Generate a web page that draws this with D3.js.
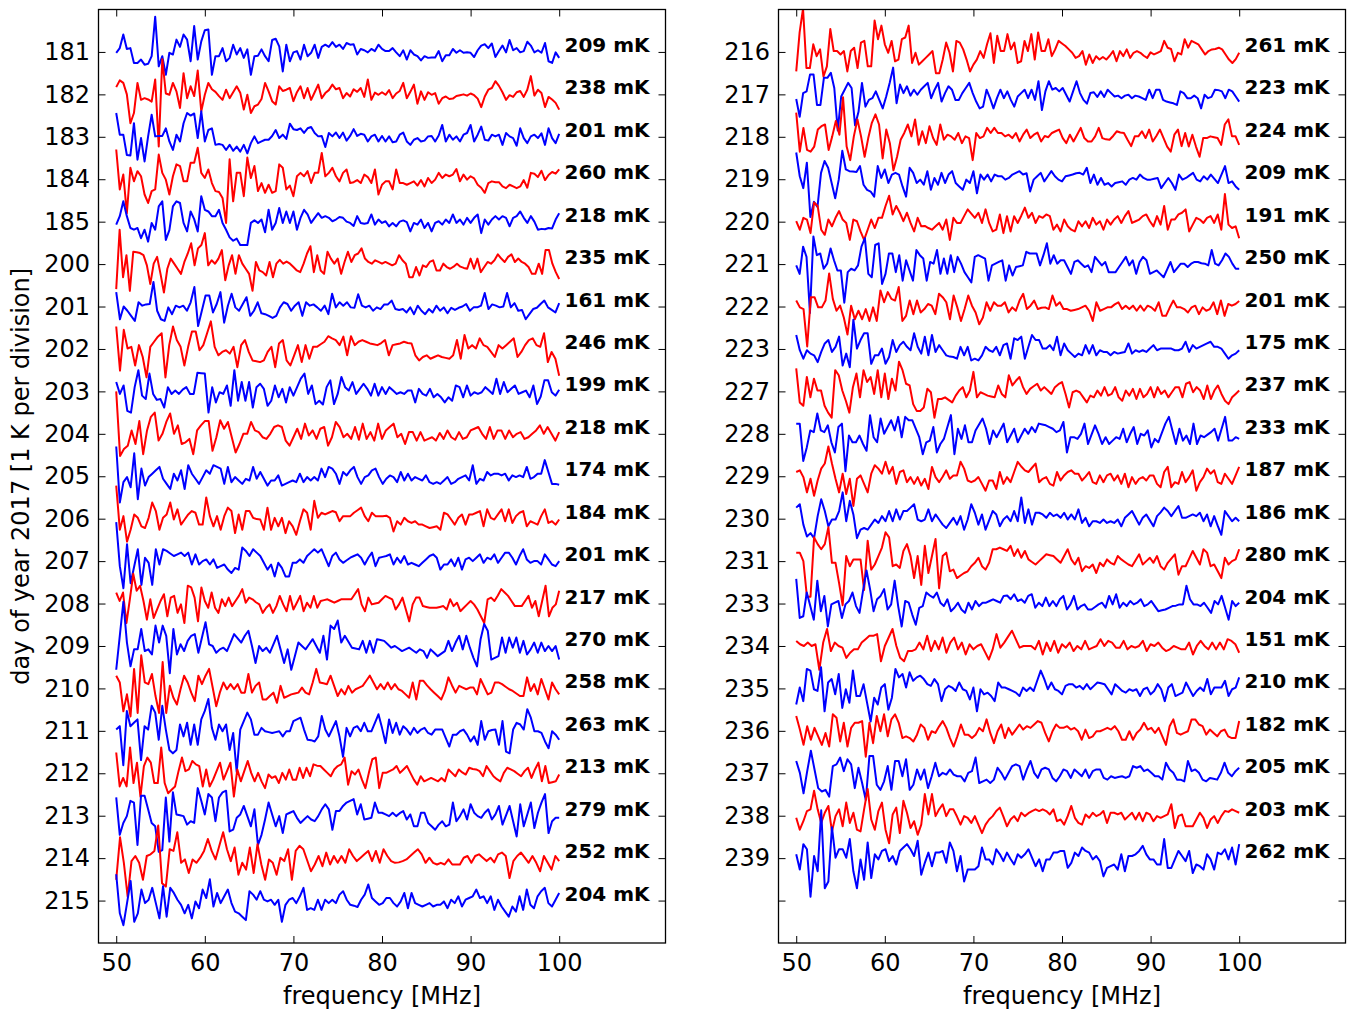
<!DOCTYPE html>
<html>
<head>
<meta charset="utf-8">
<script src="https://cdn.jsdelivr.net/npm/d3@7"></script>
<style>
  html, body { margin: 0; padding: 0; background: #fff; }
  svg { display: block; }
</style>
</head>
<body>
<svg id="chart" width="1354" height="1013"></svg>
<script>
// Daily residual spectra (centikelvin), evenly spaced channels from 50 to 100 MHz.
const r181 = [-2,9,41,7,9,-26,-26,-18,-30,-28,-10,83,-34,-10,-54,-2,-6,29,12,41,29,-22,61,-18,25,51,53,-54,-10,-10,9,-22,-14,17,-6,9,-14,6,-54,-10,-9,6,-10,-22,28,31,13,-46,17,-22,-1,2,-18,17,-10,-2,17,-14,12,17,12,23,12,17,7,21,17,18,-6,7,4,-1,7,2,17,7,2,2,9,-1,-10,4,-18,4,-6,-10,-20,-10,-14,-13,-13,2,-22,-8,-8,7,-2,4,-2,-1,-2,-12,4,15,18,9,20,-12,2,15,-1,28,4,9,-1,2,24,15,-1,4,-2,21,-22,-26,-1,-14];
const r182 = [17,33,27,0,-68,-44,27,-13,-9,-12,-17,35,-123,83,2,-1,27,7,-32,50,-9,19,-4,56,-40,-1,27,12,6,-4,-13,11,-9,5,19,4,-36,-1,-44,-28,-24,-11,27,7,-16,-24,19,8,11,15,-16,5,19,-9,15,-13,5,23,-9,3,10,23,12,15,-9,3,-5,12,6,15,-6,35,-13,4,-1,5,-1,10,-9,2,8,27,-9,6,23,-22,7,-13,5,-1,3,-22,-9,-5,-11,-10,-4,-2,0,-3,2,-2,-10,-30,-5,11,15,31,20,5,-13,-2,-6,5,8,-6,11,43,-3,11,3,-30,-6,-12,-20,-36];
const r183 = [56,5,5,-43,-44,32,-54,-3,-58,1,52,1,2,2,20,-11,-31,5,-11,32,56,50,55,-3,60,-11,16,20,-19,-17,-19,-31,-19,-33,-23,-35,-19,-39,-15,1,-15,-11,-7,-7,2,16,-3,5,-5,31,18,16,20,9,20,23,9,1,2,-24,9,1,10,-3,10,-9,2,18,2,7,5,-11,1,5,-11,2,-11,1,-13,-11,5,10,-11,-19,-7,-3,-11,-9,1,2,-11,3,28,-11,5,-7,1,-11,5,9,28,-11,5,24,-7,-9,5,1,5,-19,9,1,-3,-21,20,-3,-15,1,5,-3,8,-19,20,-3,-15,7];
const r184 = [70,-24,11,-80,27,-5,19,7,-36,-56,-28,-24,58,15,-1,-36,7,35,31,-5,-5,39,39,74,15,3,23,-9,-28,-30,-44,-103,47,-52,15,15,-40,51,3,31,-28,-9,-32,-13,-32,-28,35,27,-24,-15,-40,7,15,7,19,-9,15,15,62,7,15,27,7,-5,15,23,-9,-7,-2,-9,11,5,-9,23,-36,-13,-5,-5,-24,23,-9,-9,-13,-9,-5,-15,-2,-17,3,-9,-1,15,3,11,7,11,24,-5,11,-1,7,2,-13,-20,-32,-9,-5,-7,-7,-17,-21,-13,-17,-21,-17,-2,-20,15,13,5,20,-2,10,17,13,23];
const r185 = [-7,13,48,13,-15,-19,-15,-39,-19,-47,-3,-19,36,48,-43,-20,36,48,44,-3,-23,24,6,-23,60,28,24,13,13,28,-3,-19,-37,-45,-40,-55,-55,-55,-3,3,-3,5,-25,28,-19,-3,32,-3,24,-3,24,-19,9,28,17,-3,9,20,9,13,9,1,5,11,9,0,-3,-10,13,-3,-5,-3,17,-7,5,-3,1,-11,-3,-11,0,3,-1,-23,-3,-7,5,-15,-3,-23,-3,1,-7,5,-3,17,-3,5,-7,9,-3,9,17,-27,5,-7,5,13,5,13,9,-11,9,13,24,9,-3,13,0,-19,-17,-18,-15,-16,5,20];
const r200 = [-59,81,-31,21,-63,29,28,26,21,-3,-47,1,17,-23,-67,-11,13,1,-11,-23,5,25,49,-3,37,45,73,-3,9,1,13,33,-38,-3,21,-23,21,1,-11,-23,-63,5,-15,-19,-27,5,-31,1,10,1,6,1,-7,-15,-19,1,25,42,-19,21,-15,-23,29,13,1,13,-23,5,29,5,21,25,37,13,5,1,9,5,1,5,1,-3,1,21,9,1,-31,-31,-7,-27,-3,-7,5,9,-15,-15,1,-7,-11,-6,1,-6,-9,-11,13,-11,13,-19,-7,5,1,9,23,13,5,17,23,5,13,5,1,-7,-23,-23,1,-23,33,33,1,-19,-35];
const r201 = [34,-30,0,-10,-22,-34,10,2,5,6,58,-10,-30,-34,-2,-18,2,-2,2,-10,10,46,-46,-10,26,26,-14,6,34,-38,2,30,-2,-10,6,22,-22,-10,10,-16,-18,-22,-27,-22,-2,10,6,-10,2,10,-22,10,2,5,-2,-10,2,-18,30,-2,10,2,10,-2,-3,29,2,-2,2,-10,-2,-6,5,5,14,-6,-8,-6,-14,-2,-18,2,-10,-18,-6,-14,2,-10,-2,-16,-3,-8,-3,0,6,-10,-2,-2,2,32,-6,5,2,-2,0,32,-2,8,-10,-8,-30,-18,-6,-3,6,14,-2,-8,-14,8];
const r202 = [53,-51,45,1,5,-39,9,-19,-67,5,17,29,37,-67,9,53,21,5,-39,5,41,41,-3,9,37,65,5,-15,-7,-3,-11,5,-43,9,21,-7,-27,-29,-31,-27,-7,5,-43,13,21,-27,-39,-15,9,-31,9,-23,5,5,11,17,30,25,21,9,29,-15,30,9,17,21,17,13,11,9,14,21,-15,9,11,13,17,14,13,-15,-27,-19,-15,-23,-19,-15,-19,-21,-23,-15,21,-23,33,1,9,1,25,9,5,-7,-19,9,1,9,17,25,-19,-7,9,21,25,9,5,37,-31,-7,-23,-63];
const r203 = [22,-6,14,-46,-50,10,50,-10,-18,42,-6,-20,-18,-38,10,-6,2,-6,4,10,-6,-6,44,43,42,-50,10,-26,-2,-6,14,-34,50,-22,22,-22,22,-38,10,18,6,-34,-22,14,-14,6,-26,10,-10,10,30,42,-6,14,-30,-22,-31,10,26,-30,-6,34,10,2,22,-6,6,18,6,-10,18,-10,10,-6,10,2,-6,-2,-6,2,2,-26,6,-6,-10,6,-14,-6,-14,-26,-14,-22,14,10,-14,14,-10,-2,-6,-2,10,2,-6,30,-6,22,-2,6,14,-6,-2,2,-14,14,-30,-12,26,26,-2,-10,4];
const r204 = [100,-52,-36,-28,8,-24,30,-48,8,40,50,-16,0,28,48,0,20,-24,-20,-12,-48,8,20,30,30,-40,-8,32,12,28,-8,-44,-24,0,0,28,8,4,-8,-12,0,16,20,16,-16,-28,-8,12,-12,24,-4,8,-12,12,16,-28,-8,28,16,-8,0,-12,16,-14,24,-12,4,-16,24,-12,8,16,24,-8,0,-24,4,4,-16,4,-16,-12,-8,-16,2,-12,8,-8,-14,4,-12,-8,8,12,16,0,-12,16,-12,8,8,-12,8,-8,0,4,-12,-8,0,8,20,0,16,0,-16,4];
const r205 = [70,-62,-14,-2,-26,54,-54,18,-22,-2,6,14,22,-6,-18,-30,6,-10,14,-30,26,6,-6,-18,-2,14,6,26,22,18,-18,22,-14,-2,-10,-18,-6,-10,22,-6,10,-6,-22,-10,-10,2,-22,-18,-14,-10,-14,6,-14,-2,-10,-2,-10,18,-2,22,18,6,-18,10,2,14,22,-2,-18,-2,2,14,18,-2,-18,-6,2,-2,-14,10,-10,6,-10,-2,-6,-10,2,-14,-18,-14,-18,-10,-2,-18,-14,-6,-2,2,-10,26,-18,-6,-10,10,2,6,6,2,6,-10,2,-2,2,-2,22,-6,-2,6,6,38,10,-18,-18,-20];
const r206 = [78,-26,6,-54,-26,10,2,-18,-22,2,38,18,-26,2,10,38,-2,22,-14,-2,10,18,14,-14,-14,50,6,-18,6,-26,6,26,18,-34,10,-26,18,18,2,-1,-2,-26,26,-26,2,-18,2,-34,-6,-18,-38,-6,22,14,-26,42,2,14,10,14,18,15,-6,6,6,6,14,20,26,6,-6,14,6,6,6,7,2,-30,-6,-14,2,-6,-10,-6,-14,-14,-18,-22,-20,-18,-26,14,10,-2,-14,2,10,-14,10,10,14,18,-18,22,2,-2,10,22,-6,22,-10,6,14,18,-18,-6,-10,-14,6,22,-10,-6,-14,-2];
const r207 = [92,-12,-64,40,-52,-12,28,-56,8,-4,-56,28,-8,28,24,18,12,16,20,12,20,-8,16,-8,0,4,-8,4,-16,-12,-8,-20,-28,-16,-20,32,24,12,28,20,12,-4,-20,-8,-36,-4,-16,-36,-36,-4,-4,4,-4,12,20,28,20,28,8,-12,12,20,4,-4,2,8,12,16,8,-8,8,20,-12,8,10,12,16,-8,8,-4,12,-8,-4,-8,-12,-4,4,12,16,8,-20,-8,-8,4,-12,8,-20,4,8,0,8,16,-4,8,4,16,-4,8,20,20,8,-8,12,28,4,-4,0,0,-8,16,4,-8,-12,0];
const r208 = [26,6,26,-46,10,70,30,42,6,-38,10,-34,-14,6,22,-30,14,18,-22,-2,-46,42,38,14,-42,38,6,-10,26,-10,-22,10,-6,14,-6,6,18,34,2,14,10,3,-2,-22,-10,-2,-22,-6,18,-2,-18,18,-14,2,18,-18,2,-10,18,-10,6,8,10,6,2,6,10,10,10,10,22,34,-2,-18,14,-2,0,2,10,18,14,10,-14,-2,14,-14,-42,-2,14,14,-6,-8,-10,-10,-10,-8,-6,-14,10,-6,2,-18,-10,-2,6,-2,-14,-30,-46,10,14,6,19,34,26,18,6,-6,-6,-6,6,18,-10,6,-30,6,42,-30,-10,-2,30];
const r209 = [-56,24,104,8,-48,-8,-8,40,-12,-8,-20,48,8,48,24,-64,40,-20,4,-12,12,24,28,-16,20,56,4,0,-16,-8,-4,-12,8,28,18,8,24,36,0,-40,0,-12,-4,-16,4,24,-8,-40,-8,-56,-24,8,0,-8,4,16,0,-16,24,-32,48,40,60,8,24,10,-4,-6,-8,12,-16,12,-16,16,14,12,4,-4,0,-6,-12,-8,-4,-10,-16,-8,-12,-28,-8,-16,-24,-18,-12,12,-12,8,24,-8,24,-4,-28,-48,16,52,36,-32,-28,-24,20,-16,20,-4,20,-16,12,-20,-8,8,-16,8,-12,0,-12,0,-32];
const r210 = [30,14,-54,-14,-66,46,-58,78,14,10,34,-18,-58,62,-58,6,-22,-38,-2,30,14,-10,-30,30,10,30,46,2,-42,-10,14,-2,10,-2,10,-10,-10,34,-10,6,14,-26,-26,-18,-10,-34,6,-22,-18,-14,-12,-10,2,-10,-14,14,46,14,12,10,30,6,-18,-2,-14,6,-10,-2,2,6,18,30,14,-2,10,-2,14,-2,10,-2,-6,-14,-22,14,-26,18,18,7,-2,-10,-18,-26,-6,26,7,-10,6,2,-2,2,2,-14,22,4,-14,-10,14,14,10,4,-2,-6,-12,-18,-18,26,-6,10,-14,22,-2,-26,14,-2,-14];
const r211 = [3,11,-81,47,11,19,27,-69,11,3,59,43,-21,59,3,-45,-53,-45,15,-13,19,-33,15,-33,27,47,75,7,-21,15,-1,15,-45,-5,-97,3,23,43,27,-9,-9,7,-1,-3,-5,-3,-1,-13,-1,-1,23,27,31,3,-21,-22,-25,-13,35,3,-13,5,23,-13,-61,7,-13,7,11,-1,19,-1,-1,19,39,7,-29,27,-5,19,-9,11,3,-9,7,-5,3,7,-5,-9,3,3,3,-17,-37,-9,-9,-1,3,-9,-25,-13,-33,23,-21,-1,2,3,-33,23,-49,-53,3,19,15,3,51,31,-1,-1,-5,-25,-41,-1,-9,-21];
const r212 = [49,-31,-11,-31,61,-23,25,-55,17,37,25,-23,-23,61,-23,-47,-39,-31,5,37,5,9,29,21,17,-31,9,-31,-15,5,25,-15,5,25,-55,9,-19,5,29,1,-19,1,-19,-35,-3,-11,-7,-23,1,-15,9,-15,-15,13,-11,13,-7,21,18,17,9,1,-7,9,17,21,37,-27,5,-3,9,-15,-35,1,33,37,-35,1,1,5,9,17,1,9,17,1,-15,-27,-7,-19,-15,-11,-15,-19,-11,-19,9,1,-7,9,2,-3,13,10,9,5,-7,17,5,-7,-14,-19,1,13,9,5,-1,-7,5,13,-11,9,25,-19,17,-23,-21,-19,-3];
const r213 = [43,-45,-17,-1,35,31,-69,47,47,15,-17,-25,-85,-81,43,-61,55,3,1,-1,-21,-13,-17,65,35,3,51,43,-13,43,55,59,-37,-33,-5,3,23,-1,-25,15,-69,-45,-9,31,3,-25,-1,-41,3,7,11,-5,-17,-9,-1,-9,-13,-1,15,27,15,-33,11,11,23,31,35,39,3,27,-9,-7,-5,31,7,7,3,-1,7,-1,6,11,-9,3,-25,-25,7,7,-17,-25,-33,-21,-13,-25,-21,31,-13,-1,15,-9,27,7,-1,-5,7,15,-9,3,23,-21,1,23,-13,-49,27,-25,3,31,-29,7,31,51,-41,-13,-5,-5];
const r214 = [-51,49,-11,-91,-7,5,-11,-51,5,9,17,77,-59,-67,21,17,61,-11,-3,-35,-3,-11,1,17,45,17,-3,29,61,21,-7,25,-39,-11,-27,25,-35,33,-15,-51,-3,-11,-39,1,-7,21,-51,17,29,21,-5,-31,-15,5,-19,13,-15,5,-11,5,-11,21,5,-7,1,9,17,-7,17,-11,21,5,-7,-11,-10,-7,-3,5,13,21,9,-11,1,-11,-15,-11,-15,-3,-15,-15,-15,1,5,-11,5,9,1,-7,1,-10,9,13,5,-47,-7,5,13,1,-11,5,-11,-31,5,-11,-27,5,-7];
const r215 = [62,-30,-58,-6,46,-50,-30,26,-6,2,30,-6,-42,34,-38,30,18,2,-10,-30,-10,-42,-2,-18,26,6,50,-14,18,-6,10,26,-6,-26,-30,-38,-46,22,14,2,22,2,-2,2,-10,2,-50,-10,2,6,-6,10,30,-22,-18,-22,2,-22,2,-6,2,-6,14,22,2,-10,-12,-15,2,14,38,6,-2,-10,-6,6,6,-6,-14,-2,18,-18,18,-6,-10,-14,-10,-6,-14,-10,-10,-2,-18,2,-6,10,-14,2,6,10,26,6,10,-6,10,-22,2,-14,-26,-38,-14,-26,10,-22,26,-10,-18,10,22,30,-6,-14,2,18];
const r216 = [-46,46,102,-38,-38,18,-10,6,-58,-34,54,2,2,-6,2,-46,2,10,-38,22,26,-34,-34,74,30,62,18,-2,26,-22,-18,30,34,62,-26,-2,-30,-22,-14,-6,2,-50,-50,-18,22,-2,-46,26,22,6,-18,-46,-30,-18,2,-14,18,44,-26,38,2,2,42,6,22,-26,-22,26,2,42,-18,46,2,2,30,-10,6,26,20,14,6,-2,-14,-10,2,-30,-6,-26,-10,-18,-12,-18,-9,2,-22,2,-10,6,-14,-2,2,-2,-9,-14,-1,-6,-2,2,26,10,7,-22,-2,-6,30,10,26,22,18,6,-6,2,6,7,10,6,-6,-18,-26,-17,-2];
const r217 = [-11,-53,3,7,47,47,-25,-25,39,39,51,15,-85,-5,11,27,15,-73,-41,27,-29,-13,-9,7,-13,-33,-5,27,63,-21,23,3,19,-3,11,-1,11,19,27,-9,11,27,-17,3,19,11,-13,-13,3,15,27,3,-17,-33,-29,11,-9,-33,-9,11,-9,7,-13,-29,-5,3,11,-9,11,-13,31,-37,7,31,11,15,7,15,-1,-17,7,31,3,-13,-22,3,5,-6,7,-6,11,3,-5,-3,-9,-3,-1,-9,-3,-5,-9,-13,11,-9,11,11,-13,-17,-19,-21,-25,7,3,-9,-9,-3,-9,-33,-1,-9,-6,11,10,7,-9,11,7,-5,-17];
const r218 = [57,-35,21,-31,-35,-23,17,25,29,-31,1,37,5,93,-23,-55,1,41,1,-47,-3,33,53,29,-51,17,-15,-79,-47,-7,9,29,1,41,-19,13,-15,25,-3,-19,29,-7,5,1,-7,9,-15,1,-3,-55,9,-3,1,21,9,21,9,9,1,5,-3,9,-11,5,17,-3,5,10,-11,2,-1,9,13,17,-3,-15,5,-11,5,21,-3,-11,-11,1,21,-3,-6,-7,2,13,10,9,-7,-22,1,1,13,-3,17,-11,2,17,-3,-23,-35,5,17,-22,9,-23,5,-23,-47,-3,-3,1,-1,-3,-19,29,41,1,1,-19];
const r219 = [63,7,-21,39,-89,-53,-65,15,43,27,-9,-45,-1,67,23,19,18,17,31,-13,-25,-29,-41,31,3,23,-9,11,15,11,-17,-41,27,15,-9,-1,-13,19,-25,3,-13,15,-9,11,19,-9,-17,-25,-1,-9,19,-33,11,-1,11,-5,11,7,7,-1,3,11,15,19,11,14,-29,-1,7,15,-5,7,19,7,-1,-5,7,9,11,14,15,11,27,-9,11,-13,3,-13,-9,-17,-9,-7,-5,-13,-1,3,-1,11,3,-1,-1,1,3,-21,-9,3,-9,-25,11,-1,3,9,15,-1,-5,7,-1,11,1,-9,11,31,-9,-5,-17,-25];
const r220 = [1,-19,9,5,-27,45,37,-19,-31,5,-11,9,25,5,-3,-43,5,1,-23,-43,-19,5,-15,9,9,37,61,17,37,21,1,21,-3,-23,9,-11,-10,-15,-19,-11,-3,-19,5,-43,9,-3,-3,13,29,19,9,21,-3,29,-3,-23,-19,17,-27,13,-23,13,-3,14,33,9,21,-3,13,9,17,13,-19,-7,-23,5,-11,-19,-23,1,-11,1,-15,9,-7,1,-19,5,-7,5,13,-3,13,25,-3,1,5,13,17,1,-11,13,-7,37,-19,5,5,17,21,29,-23,-7,9,5,-3,9,13,-3,17,-19,65,-7,-15,-11,-39];
const r221 = [-3,-23,41,17,-115,65,21,25,-11,1,37,9,-15,-15,-91,-19,-11,-15,-3,41,61,-23,-31,45,49,-47,-23,25,25,-19,21,-39,9,-15,-39,33,21,13,-39,5,1,33,-23,13,-23,21,-19,17,1,-19,-31,-43,17,21,17,13,-39,-3,1,5,9,-39,-3,-27,-7,-5,-3,29,25,25,25,-3,21,49,1,21,1,9,9,-7,-23,5,9,1,-7,-3,-19,17,7,-3,5,-19,-19,-19,-7,5,17,-3,9,-23,5,17,9,-23,-19,-15,-23,-31,-13,5,-19,-9,1,1,-7,1,5,5,2,1,-3,33,1,-3,9,25,17,1,-11,-11];
const r222 = [14,-2,-6,-94,22,22,-2,-2,14,78,18,-10,2,-26,-66,2,-30,-10,-30,-6,-34,-2,-34,38,10,34,18,14,46,-34,-22,14,-18,14,-14,-6,6,2,-18,30,22,10,-30,26,-2,-34,-6,26,2,-14,-42,-26,10,-10,10,2,2,10,-14,-2,-10,14,30,-6,2,14,-6,-3,-2,-6,26,2,10,-6,-6,-10,-8,-6,-2,2,-10,-34,10,-10,-6,-2,-2,5,10,-6,2,-6,2,-10,2,-10,2,-2,-10,10,-22,-22,-3,14,-2,-2,-6,-14,-2,2,-18,-2,-10,-6,10,-18,14,-22,6,2,6,13];
const r223 = [33,-3,-23,-3,-11,-15,-31,-7,13,21,-7,5,29,-39,-11,-43,69,1,21,37,37,-35,-15,-15,1,-35,-19,21,-7,9,17,5,-3,37,5,-11,29,-15,33,-7,9,-3,-15,-18,-19,-23,5,-15,5,-27,-23,-27,-15,5,-3,-7,5,-15,9,13,-23,25,21,29,-23,5,33,21,21,1,1,9,-3,29,-15,13,-3,-11,-19,-11,-15,9,-11,9,-15,-3,-7,-7,-15,-7,-11,-9,-7,13,-11,-3,-7,-3,-7,1,9,-3,1,1,1,1,-3,-3,1,17,-7,9,1,5,9,13,17,5,5,1,-11,-23,-15,-11,-3];
const r227 = [54,-26,-34,34,-14,30,2,2,-34,-50,-62,50,38,2,-22,-50,10,42,-14,50,22,34,-6,50,-14,42,-18,30,2,70,50,18,14,-30,-46,-46,-38,6,-2,-62,-18,-18,-14,-20,-26,-10,2,10,-14,2,46,-14,-2,-6,-10,-12,-14,14,-6,-14,38,14,25,34,10,-6,6,12,18,2,10,2,-6,10,17,22,-6,-38,-2,2,-2,-14,-26,-10,-14,2,-10,10,-10,-6,10,-14,-22,2,-10,6,-18,6,-14,-6,10,-14,10,-6,2,-14,-2,10,10,-14,18,22,-2,10,2,-18,14,-18,2,14,-6,-22,-30,-14,-6,2];
const r228 = [24,24,-64,-32,8,4,48,8,4,20,-20,-44,16,24,-88,-4,-20,-20,-4,-24,-40,44,-8,-20,36,0,16,32,8,40,-8,40,32,32,12,-8,-48,-20,-16,16,-44,-24,-12,16,44,-48,12,-12,20,-20,-20,8,22,36,12,-24,8,-8,8,24,-20,-4,12,-20,-4,12,0,16,4,24,22,20,16,12,4,8,28,-44,-8,-8,-12,0,24,-24,-2,20,0,-24,-8,-24,-16,-8,-12,12,-20,0,16,-24,0,-4,8,-32,-12,-20,2,24,40,8,-24,12,-16,-4,-24,24,-24,-4,-8,-2,4,12,-16,12,40,-16,-16,-8,-12];
const r229 = [10,14,-2,-38,-6,-46,-10,18,30,70,30,-6,-38,6,-42,-6,-70,-6,2,-18,-38,6,26,18,6,34,6,22,-18,10,14,-14,-2,-18,-2,-22,-6,-30,22,-2,-14,-1,14,-6,2,2,34,18,-10,-14,-10,-2,-18,-34,-10,-10,-30,10,-18,-2,-14,10,34,23,14,10,20,30,-14,-6,-2,-18,-22,10,-10,2,10,14,6,6,-10,-1,10,-14,-18,2,-14,2,6,-10,2,-18,6,-26,-2,-18,-6,-2,-10,2,2,-18,-26,10,22,-26,-14,-18,10,-14,-2,14,-34,-14,-2,18,6,14,-14,-18,6,-6,-18,2,22];
const r230 = [26,34,-14,-42,-34,-46,6,46,18,-18,-2,-2,18,62,-6,42,10,-46,-26,-22,-26,-14,-2,-10,6,-6,18,-6,22,-2,18,18,26,34,-2,-6,-2,22,-6,10,-2,-14,-22,-10,2,-14,6,-26,-2,34,14,-14,10,-26,-4,18,10,-18,-2,6,-6,18,-6,50,-10,22,-14,14,14,10,2,14,6,10,2,14,-2,10,-2,22,-10,2,-18,-6,-6,-10,-2,-10,-6,-10,-2,-18,2,10,18,2,-14,2,10,-4,-18,6,15,26,18,6,18,30,2,2,6,10,6,14,-6,10,-18,6,-17,-38,18,6,-6,2,-6];
const r231 = [20,20,0,-84,-84,56,40,28,40,80,-4,-4,-52,-104,12,-12,4,4,4,-68,48,-20,-8,12,32,68,56,-12,-8,-16,24,40,12,-40,12,-56,36,-28,12,52,-64,12,20,-24,-20,-40,-34,-28,-24,-12,-4,8,-12,-20,-4,28,28,32,28,24,36,12,28,8,24,4,-2,-8,0,8,16,14,12,4,-4,12,28,4,-8,8,-24,-12,-16,-8,-28,-4,-12,4,-4,-8,12,4,-2,-8,-12,2,16,-8,0,8,-4,12,-12,-20,-4,6,16,-32,-12,-12,6,24,8,-8,28,20,-12,-8,-24,-40,8,-8,0,4,28];
const r233 = [58,-34,-30,26,-6,-38,54,-18,18,-54,-2,2,6,-34,-2,6,26,-6,-22,30,78,34,-18,10,18,34,-14,-2,54,-6,-54,6,2,-26,-50,-10,-6,26,19,14,26,2,-6,10,-18,-10,2,-14,-22,2,-14,6,-6,2,2,6,10,6,2,18,19,10,22,6,10,2,18,22,-10,2,-6,14,-6,6,-6,10,18,-14,-2,18,-14,-6,-2,-14,-14,-8,-2,2,-10,18,-2,22,-10,2,-6,6,-2,2,10,-6,-2,6,-6,-18,-16,-14,-10,-6,-5,-2,-2,42,10,-2,-2,-6,2,-10,-22,6,-2,18,-10,-38,6,-6,2];
const r234 = [12,4,0,8,0,4,-56,8,40,-12,8,0,-4,-28,-16,-8,-8,8,16,24,24,28,-36,0,20,40,0,-28,-36,-12,-12,-8,8,-8,24,-12,12,-8,20,-16,8,20,-8,8,-20,4,-8,0,4,-14,-32,-8,28,-4,8,22,36,16,-4,0,0,0,-8,12,-20,8,-12,12,-16,4,-4,8,-12,0,-8,12,-8,-4,0,16,0,12,8,-4,-4,12,-8,0,-4,0,12,-12,4,0,8,-4,-12,-8,0,-4,-8,-8,8,-20,0,12,0,-8,8,-8,8,-8,16,12,4,-16];
const r235 = [-38,2,-30,46,42,-2,-6,50,-54,14,22,-14,34,-46,-2,-34,42,-18,-18,10,-34,-78,-22,-38,2,10,-50,-22,46,26,34,2,38,18,26,30,22,10,6,22,10,-30,-2,6,2,-6,14,-2,-6,-26,2,-54,-2,-14,-10,-18,-30,14,2,2,-2,-6,-10,-18,2,-6,2,-6,18,42,22,-2,14,-2,-6,-14,6,10,10,2,6,-2,10,-2,6,14,12,10,-2,-14,10,2,-6,-10,-2,-6,-2,-18,-2,2,-14,-6,10,-2,-30,2,10,-18,-14,-10,14,-2,-18,-6,2,-6,22,-14,2,2,2,18,-18,-2,2,26];
const r236 = [35,3,-33,11,-21,7,-13,-33,-5,-37,39,31,-25,19,-37,7,19,19,23,-61,19,-29,35,-1,39,-13,27,39,19,-17,-13,-17,-25,-9,15,7,-21,-1,-5,10,23,7,-17,-37,-13,15,-9,-9,-17,-9,7,-1,27,-5,-29,-1,15,-17,7,-9,3,15,3,11,7,15,23,19,-5,-25,-1,15,7,7,11,3,7,-1,-21,3,-17,-13,-1,-1,3,7,3,11,-1,-21,-21,-1,-21,-5,3,19,3,7,-5,7,-13,-33,11,27,-5,-9,-5,-1,27,27,15,11,-9,3,-5,-13,-1,3,-13,-17,-17,23];
const r237 = [29,1,-47,5,53,9,-35,-43,-39,-55,17,21,37,5,33,21,-35,13,-23,-63,41,41,-27,-39,-19,17,-39,29,29,-7,33,-39,-27,9,-15,9,-35,-7,25,-7,1,-3,9,-3,-7,-7,-19,1,5,37,-23,-19,-15,-23,-15,13,1,-15,1,17,21,17,-15,9,29,1,-11,9,13,9,-11,-19,-7,9,5,-11,9,1,-7,9,-11,5,9,9,-11,-15,-7,-11,-9,-7,-11,-7,17,13,17,5,9,1,-7,-7,-15,25,9,1,-15,-15,-19,29,5,9,1,-15,-19,-11,-13,-15,1,25,1,-7,5,13];
const r238 = [-5,-33,-13,11,15,59,15,-17,7,23,-37,-1,15,-25,31,-17,7,-33,-37,15,63,-9,-33,11,31,-33,-65,3,19,-41,35,7,-29,-13,-45,-21,51,3,51,-1,15,27,-1,15,15,-2,-21,-1,-5,-17,-1,-21,-41,-21,-9,-1,11,19,-2,-25,-9,-1,-13,7,-1,6,11,15,11,15,11,3,15,-13,-9,-21,-1,23,-5,-17,-21,3,-5,7,-1,3,11,-17,7,7,3,7,-9,-1,7,-9,7,-13,7,3,-13,-1,-5,-1,3,27,-29,-1,3,-25,-25,-25,-9,7,-5,-29,-9,-1,-17,-1,11,9,15,11,7];
const r239 = [9,-27,33,21,-91,5,-31,113,-71,-55,73,1,21,21,1,45,-31,-71,-3,-51,37,-47,9,-3,17,21,-7,5,-15,17,25,33,21,5,41,-39,-11,13,-19,13,13,17,-11,37,17,-31,5,-55,-27,-27,-27,-19,25,-3,-3,-15,21,9,-7,13,-2,-15,9,1,9,21,1,-19,-3,-31,-3,-3,13,13,17,17,-23,-11,13,5,25,17,13,-3,5,-7,-43,-23,-19,-15,-27,9,-31,5,5,9,17,29,9,-3,-3,-15,-15,45,-23,-23,-3,17,5,-7,17,-35,-15,-19,-27,9,-3,-27,13,9,21,-3,25,-15,33];

// Day-of-year labels and rms of each residual (mK), per panel.
const leftDays  = [181,182,183,184,185,200,201,202,203,204,205,206,207,208,209,210,211,212,213,214,215];
const leftRms   = [209,238,201,260,218,235,161,246,199,218,174,184,201,217,270,258,263,213,279,252,204];
const rightDays = [216,217,218,219,220,221,222,223,227,228,229,230,231,233,234,235,236,237,238,239];
const rightRms  = [261,223,224,209,191,250,201,175,237,233,187,186,280,204,151,210,182,205,203,262];

const freqTicks = [50,60,70,80,90,100];
const fStart = 50, fStop = 100;

const spectra = {
  181:r181,182:r182,183:r183,184:r184,185:r185,200:r200,201:r201,202:r202,203:r203,204:r204,
  205:r205,206:r206,207:r207,208:r208,209:r209,210:r210,211:r211,212:r212,213:r213,214:r214,215:r215,
  216:r216,217:r217,218:r218,219:r219,220:r220,221:r221,222:r222,223:r223,227:r227,228:r228,
  229:r229,230:r230,231:r231,233:r233,234:r234,235:r235,236:r236,237:r237,238:r238,239:r239
};

const svg = d3.select('#chart');
const FONT = "'DejaVu Sans', 'Liberation Sans', sans-serif";
const LABEL_SIZE = 24;
const panelW = 567, panelH = 933.5, panelTop = 9.5;
const nRows = 21;

const x = d3.scaleLinear().domain([48, 112]).range([0, panelW]);
const y = d3.scaleLinear().domain([-1, 21]).range([0, panelH]);

const panels = [
  { id: 'left',  left: 98.5,  days: leftDays,  rms: leftRms,  colourOffset: 0 },
  { id: 'right', left: 778.5, days: rightDays, rms: rightRms, colourOffset: leftDays.length }
];

panels.forEach(p => {
  const g = svg.append('g').attr('transform', `translate(${p.left},${panelTop})`);

  g.append('clipPath').attr('id', 'clip-' + p.id)
    .append('rect').attr('width', panelW).attr('height', panelH);

  // stacked residual traces, 1 K per division
  const traces = g.append('g').attr('clip-path', `url(#clip-${p.id})`);
  p.days.forEach((day, k) => {
    const vals = spectra[day];
    const n = vals.length;
    const line = d3.line()
      .x((v, i) => x(fStart + i * (fStop - fStart) / (n - 1)))
      .y(v => y(k - v / 100));
    traces.append('path')
      .datum(vals)
      .attr('d', line)
      .attr('fill', 'none')
      .attr('stroke', (p.colourOffset + k) % 2 === 0 ? '#0000ff' : '#ff0000')
      .attr('stroke-width', 2)
      .attr('stroke-linejoin', 'round');
  });

  // rms labels
  g.append('g').selectAll('text')
    .data(p.rms)
    .join('text')
    .attr('x', x(100.6))
    .attr('y', (d, k) => y(k))
    .attr('font-family', FONT)
    .attr('font-size', 20)
    .attr('font-weight', 'bold')
    .attr('fill', '#000')
    .text(d => d + ' mK');

  const rowTicks = d3.range(nRows);
  const styleAxis = sel => {
    sel.select('.domain').remove();
    sel.selectAll('.tick line').attr('stroke', '#000').attr('stroke-width', 1);
    sel.selectAll('.tick text').attr('fill', '#000');
    sel.attr('font-family', FONT).attr('font-size', LABEL_SIZE);
  };

  g.append('g')
    .call(d3.axisLeft(y).tickValues(rowTicks)
      .tickFormat(i => i < p.days.length ? p.days[i] : '')
      .tickSizeInner(-7).tickSizeOuter(0).tickPadding(8.5))
    .call(styleAxis);

  g.append('g').attr('transform', `translate(${panelW},0)`)
    .call(d3.axisRight(y).tickValues(rowTicks).tickFormat('')
      .tickSizeInner(-7).tickSizeOuter(0))
    .call(styleAxis);

  g.append('g').attr('transform', `translate(0,${panelH})`)
    .call(d3.axisBottom(x).tickValues(freqTicks).tickFormat(d3.format('d'))
      .tickSizeInner(-7).tickSizeOuter(0).tickPadding(11))
    .call(styleAxis);

  g.append('g')
    .call(d3.axisTop(x).tickValues(freqTicks).tickFormat('')
      .tickSizeInner(-7).tickSizeOuter(0))
    .call(styleAxis);

  // frame
  g.append('rect')
    .attr('width', panelW).attr('height', panelH)
    .attr('fill', 'none').attr('stroke', '#000').attr('stroke-width', 1.3);

  // x axis title
  g.append('text')
    .attr('x', panelW / 2)
    .attr('y', 1004 - panelTop)
    .attr('text-anchor', 'middle')
    .attr('font-family', FONT)
    .attr('font-size', LABEL_SIZE)
    .attr('fill', '#000')
    .text('frequency [MHz]');
});

// y axis title
svg.append('text')
  .attr('transform', `translate(29,${panelTop + panelH / 2}) rotate(-90)`)
  .attr('text-anchor', 'middle')
  .attr('font-family', FONT)
  .attr('font-size', LABEL_SIZE)
  .attr('fill', '#000')
  .text('day of year 2017 [1 K per division]');
</script>
</body>
</html>
